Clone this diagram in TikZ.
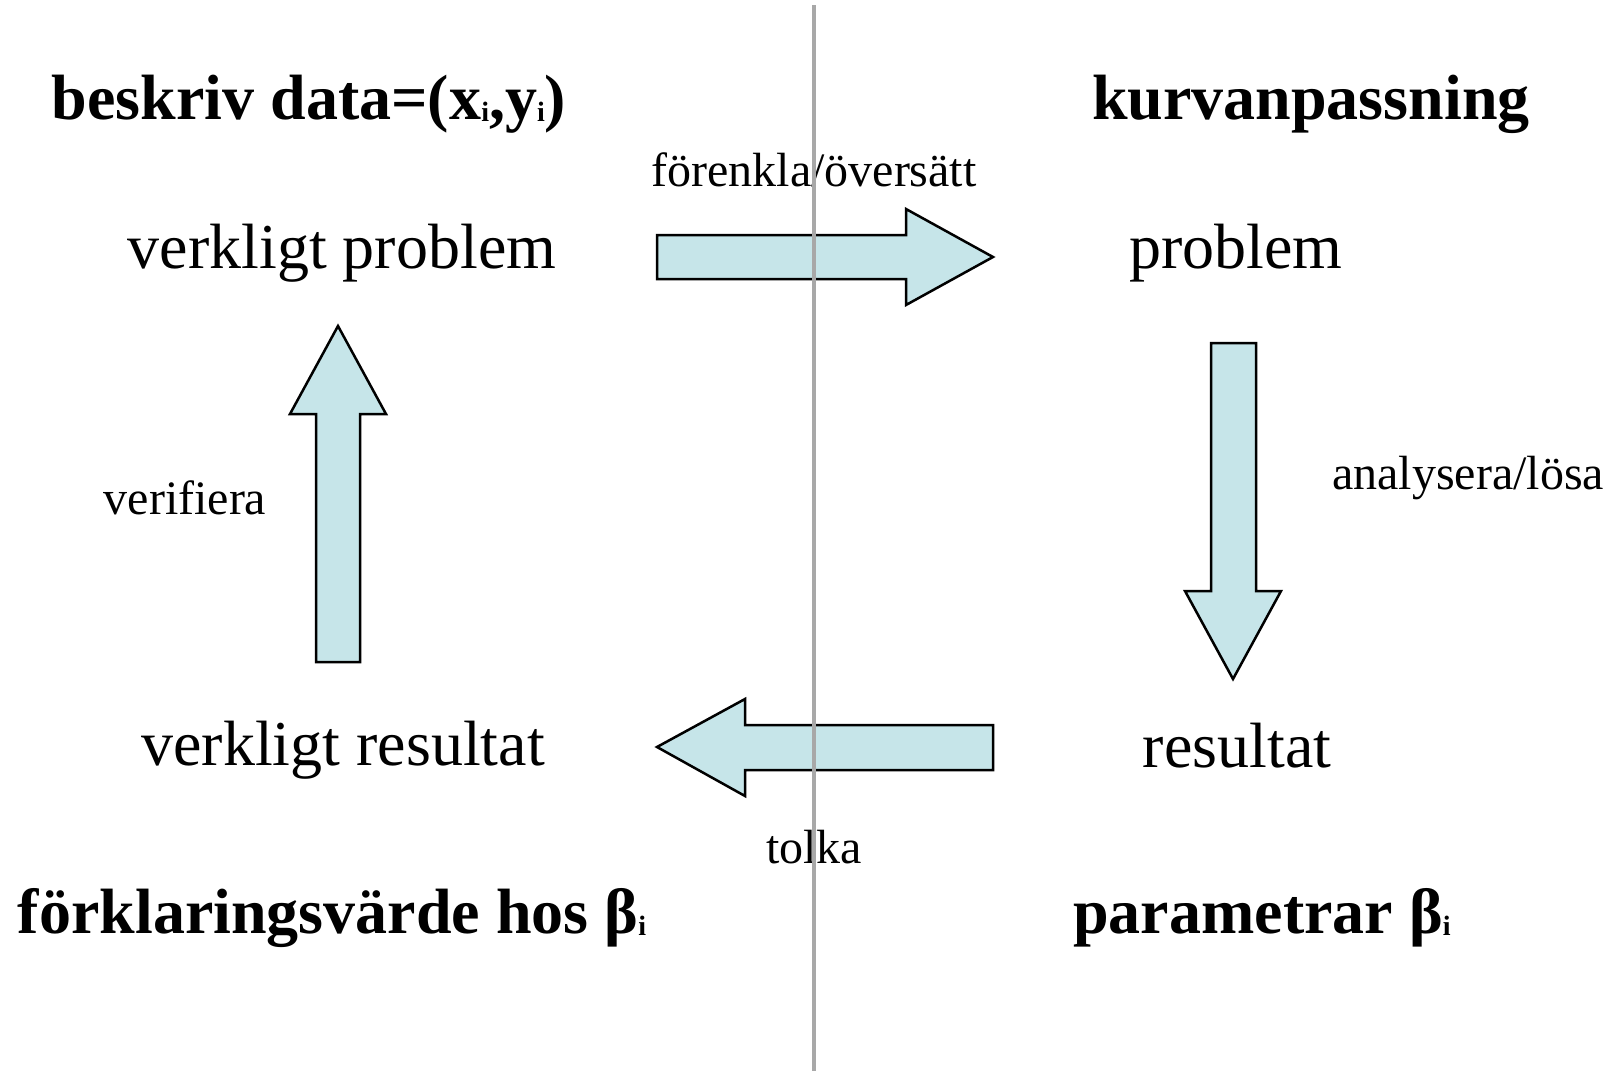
\documentclass[tikz,border=0pt]{standalone}
\usepackage{fontspec}
\setmainfont{Liberation Serif}
\usetikzlibrary{positioning}

\definecolor{pale}{RGB}{198,229,233}
\definecolor{divider}{RGB}{168,168,168}

% small index set close to the baseline
\newcommand{\lowi}{\raisebox{-2pt}{\fontsize{28}{28}\selectfont i}}

\begin{document}
\begin{tikzpicture}[
  x=1pt, y=-1pt,
  stage/.style={font=\fontsize{64}{72}\selectfont, anchor=base},
  head/.style={font=\fontsize{64}{72}\selectfont\bfseries, anchor=base},
  lbl/.style={font=\fontsize{48}{56}\selectfont, anchor=base},
  blk/.style={draw, fill=pale, line width=2.5pt, line join=miter}
]
  \useasboundingbox (0,0) rectangle (1620,1071);

  % block arrows of the cycle
  \draw[blk] (657,235) -- (906,235) -- (906,209) -- (993,257) -- (906,305) -- (906,279) -- (657,279) -- cycle;
  \draw[blk] (1211,343) -- (1256,343) -- (1256,591) -- (1281,591) -- (1233,679) -- (1185,591) -- (1211,591) -- cycle;
  \draw[blk] (993,725) -- (745,725) -- (745,699) -- (657,747) -- (745,796) -- (745,770) -- (993,770) -- cycle;
  \draw[blk] (316,662) -- (316,414) -- (290,414) -- (338,326) -- (386,414) -- (360,414) -- (360,662) -- cycle;

  % headings
  \node[head] (data) at (309,119) {beskriv data=(x\lowi,y\lowi)};
  \node[head] (kurva) at (1311,119) {kurvanpassning};
  \node[head] (forkl) at (332,933) {förklaringsvärde hos β\lowi};
  \node[head] (param) at (1262,933) {parametrar β\lowi};

  % the four stages
  \node[stage] (vprob) at (342,268) {verkligt problem};
  \node[stage] (prob) at (1236,268) {problem};
  \node[stage] (res) at (1237,767) {resultat};
  \node[stage] (vres) at (343,765) {verkligt resultat};

  % step labels
  \node[lbl] (forenkla) at (814,186) {förenkla/översätt};
  \node[lbl] (analys) at (1468,489) {analysera/lösa};
  \node[lbl] (tolka) at (814,863) {tolka};
  \node[lbl] (verif) at (185,514) {verifiera};

  % divider between the two halves
  \coordinate (top) at (814,5);
  \coordinate (bot) at (814,1071);
  \draw[divider, line width=4.5pt] (top) -- (bot);
\end{tikzpicture}
\end{document}
